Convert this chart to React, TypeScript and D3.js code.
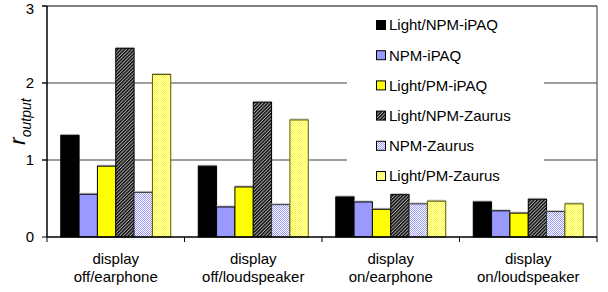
import * as d3 from "d3";

const categories = [
  ["display", "off/earphone"],
  ["display", "off/loudspeaker"],
  ["display", "on/earphone"],
  ["display", "on/loudspeaker"],
];
const series = [
  "Light/NPM-iPAQ",
  "NPM-iPAQ",
  "Light/PM-iPAQ",
  "Light/NPM-Zaurus",
  "NPM-Zaurus",
  "Light/PM-Zaurus",
];
// one array per series, values per category
const lightNpmIpaq = [1.32, 0.92, 0.52, 0.455];
const npmIpaq = [0.555, 0.39, 0.455, 0.34];
const lightPmIpaq = [0.92, 0.65, 0.36, 0.31];
const lightNpmZaurus = [2.45, 1.75, 0.55, 0.49];
const npmZaurus = [0.58, 0.42, 0.43, 0.33];
const lightPmZaurus = [2.11, 1.52, 0.465, 0.43];
const yTicks = [0, 1, 2, 3];

const values = [lightNpmIpaq, npmIpaq, lightPmIpaq, lightNpmZaurus, npmZaurus, lightPmZaurus];
const fills = ["#000000", "#9999ff", "#ffff00", "url(#hatchDark)", "url(#checkBlue)", "url(#checkYellow)"];
const strokes = ["#000", "#000", "#000", "#000", "#333", "#5c5c00"];

const W = 608,
  H = 292;
const left = 47,
  right = 597,
  top = 6,
  bottom = 237;
const font = "Arial, 'Liberation Sans', sans-serif";

export default function App() {
  const catKeys = categories.map((c) => c.join(" "));
  const x = d3.scaleBand().domain(catKeys).range([left, right]).paddingInner(0).paddingOuter(0);
  const xs = d3.scaleBand().domain(series).range([0, x.bandwidth()]).paddingInner(0).paddingOuter(0.75);
  const y = d3.scaleLinear().domain([0, 3]).range([bottom, top]);

  const bounds = catKeys.map((k) => x(k)!).concat([right]);

  return (
    <svg
      width={W}
      height={H}
      style={{ position: "absolute", left: 0, top: 0, background: "#fff" }}
      fontFamily={font}
    >
      <defs>
        <pattern id="hatchDark" width="2.4" height="2.4" patternUnits="userSpaceOnUse" patternTransform="rotate(45)">
          <rect width="2.4" height="2.4" fill="#a8a8a8" />
          <rect width="1.3" height="2.4" fill="#000" />
        </pattern>
        <pattern id="checkBlue" width="2" height="2" patternUnits="userSpaceOnUse">
          <rect width="2" height="2" fill="#fff" />
          <rect width="1" height="1" fill="#9999ff" />
          <rect x="1" y="1" width="1" height="1" fill="#9999ff" />
        </pattern>
        <pattern id="checkYellow" width="2" height="2" patternUnits="userSpaceOnUse">
          <rect width="2" height="2" fill="#fff" />
          <rect width="1" height="1" fill="#ffff00" />
          <rect x="1" y="1" width="1" height="1" fill="#ffff00" />
        </pattern>
      </defs>

      {/* gridlines */}
      {yTicks
        .filter((t) => t > 0 && t < 3)
        .map((t) => (
          <line key={t} x1={left - 5} x2={right} y1={y(t)} y2={y(t)} stroke="#808080" strokeWidth={1.5} />
        ))}
      {/* plot frame */}
      <line x1={left - 5} x2={right} y1={y(3)} y2={y(3)} stroke="#000" strokeWidth={1} />
      <line x1={right} x2={right} y1={top} y2={bottom} stroke="#333" strokeWidth={1} />

      {/* bars */}
      {series.map((s, si) =>
        catKeys.map((k, ci) => {
          const v = values[si][ci];
          const bx = x(k)! + xs(s)!;
          const by = y(v);
          return (
            <g key={s + k}>
              <rect x={bx} y={by - 1.5} width={xs.bandwidth()} height={bottom - by + 1.5} fill="#c4c4c4" />
              <rect
                x={bx}
                y={by}
                width={xs.bandwidth()}
                height={bottom - by}
                fill={fills[si]}
                stroke={strokes[si]}
                strokeWidth={1}
              />
            </g>
          );
        })
      )}

      {/* legend */}
      <rect x={347} y={10} width={197} height={180} fill="#fff" />
      {series.map((s, i) => {
        const ly = 25 + i * 30.2;
        return (
          <g key={s}>
            <rect x={376.5} y={ly - 4.5} width={9} height={9} fill={fills[i]} stroke="#000" strokeWidth={1} />
            <text x={389} y={ly} dy="0.36em" fontSize={15} fill="#000">
              {s}
            </text>
          </g>
        );
      })}

      {/* axes */}
      <line x1={left} x2={left} y1={top} y2={bottom} stroke="#000" strokeWidth={1.5} />
      <line x1={left} x2={right} y1={bottom} y2={bottom} stroke="#000" strokeWidth={1.5} />
      {yTicks.map((t) => (
        <g key={t}>
          <line x1={left - 5} x2={left} y1={y(t)} y2={y(t)} stroke="#000" strokeWidth={1} />
          <text x={34} y={Math.max(y(t), 8.5)} dy="0.36em" textAnchor="end" fontSize={15} fill="#000">
            {t}
          </text>
        </g>
      ))}
      {bounds.map((b, i) => (
        <line key={i} x1={b} x2={b} y1={bottom} y2={bottom + 5} stroke="#000" strokeWidth={1} />
      ))}
      {categories.map((c, i) => {
        const cx = x(catKeys[i])! + x.bandwidth() / 2;
        return (
          <text key={i} x={cx} textAnchor="middle" fontSize={15} fill="#000">
            <tspan x={cx} y={264}>
              {c[0]}
            </tspan>
            <tspan x={cx} y={282}>
              {c[1]}
            </tspan>
          </text>
        );
      })}

      {/* y axis title */}
      <text transform={`translate(25,${(top + bottom) / 2}) rotate(-90)`} textAnchor="middle" fontStyle="italic" fill="#000">
        <tspan fontSize={22}>r</tspan>
        <tspan fontSize={14} dy={6}>
          output
        </tspan>
      </text>
    </svg>
  );
}
